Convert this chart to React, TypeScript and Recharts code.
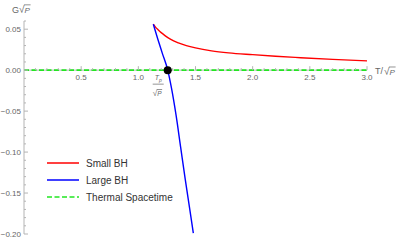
import { Line, LineChart, ReferenceDot, ReferenceLine, XAxis, YAxis } from 'recharts';

// Small BH branch
const smallT = [1.131, 1.15, 1.175, 1.2, 1.233, 1.28, 1.35, 1.42, 1.5, 1.64, 1.79, 2.0, 2.2, 2.42, 2.7, 3.0];
const smallG = [0.0561, 0.0525, 0.049, 0.0458, 0.0422, 0.0378, 0.0333, 0.03, 0.0272, 0.0236, 0.0211, 0.0189, 0.017, 0.0152, 0.0131, 0.0113];

// Large BH branch
const largeT = [1.131, 1.17, 1.21, 1.257, 1.29, 1.33, 1.37, 1.41, 1.45, 1.481];
const largeG = [0.0561, 0.038, 0.0205, 0, -0.022, -0.055, -0.094, -0.133, -0.17, -0.199];

// Thermal spacetime: G = 0
const thermalT = [0, 3];
const thermalG = [0, 0];

const transitionT = 1.257;

const xMajor = [0.5, 1.0, 1.5, 2.0, 2.5, 3.0];
const xTicks = [
  0.1, 0.2, 0.3, 0.4, 0.5, 0.6, 0.7, 0.8, 0.9, 1.0, 1.1, 1.2, 1.3, 1.4, 1.5,
  1.6, 1.7, 1.8, 1.9, 2.0, 2.1, 2.2, 2.3, 2.4, 2.5, 2.6, 2.7, 2.8, 2.9, 3.0,
];
const yMajor = [0.05, 0.0, -0.05, -0.1, -0.15, -0.2];
const yTicks = [
  0.06, 0.05, 0.04, 0.03, 0.02, 0.01, 0.0, -0.01, -0.02, -0.03, -0.04, -0.05,
  -0.06, -0.07, -0.08, -0.09, -0.1, -0.11, -0.12, -0.13, -0.14, -0.15, -0.16,
  -0.17, -0.18, -0.19, -0.2,
];

const legendItems = [
  { name: 'Small BH', color: '#ff0000', dash: false },
  { name: 'Large BH', color: '#0000ff', dash: false },
  { name: 'Thermal Spacetime', color: '#22e622', dash: true },
];

const W = 399;
const H = 240;
const M = { top: 21, right: 32, bottom: 5, left: 0 };
const X_H = 1;
const Y_W = 24;
const Y_DOMAIN: [number, number] = [-0.2, 0.06];
const plotH = H - M.top - M.bottom - X_H;
const zeroY = M.top + (plotH * Y_DOMAIN[1]) / (Y_DOMAIN[1] - Y_DOMAIN[0]);

const FONT = '"Liberation Sans", Arial, sans-serif';
const TICK_COLOR = '#666';
const AXIS_COLOR = '#b4b4b4';

const toPts = (xs: number[], ys: number[]) => xs.map((t, i) => ({ t, g: ys[i] }));

const isMajor = (list: number[], v: number) => list.some((m) => Math.abs(m - v) < 1e-9);

const fmtY = (v: number) => (v < 0 ? '\u2212' : '') + Math.abs(v).toFixed(2);

const YTick = ({ y, payload }: any) => {
  const major = isMajor(yMajor, payload.value);
  return (
    <g>
      <line x1={Y_W} x2={Y_W + (major ? 4 : 2)} y1={y} y2={y} stroke={AXIS_COLOR} />
      {major && (
        <text x={Y_W - 3} y={y} dy={3} textAnchor="end" fontSize={8} fill={TICK_COLOR} fontFamily={FONT}>
          {fmtY(payload.value)}
        </text>
      )}
    </g>
  );
};

const XTick = ({ x, payload }: any) => {
  const major = isMajor(xMajor, payload.value);
  return (
    <g>
      <line x1={x} x2={x} y1={zeroY} y2={zeroY - (major ? 4 : 2)} stroke={AXIS_COLOR} />
      {major && (
        <text x={x} y={zeroY + 10} textAnchor="middle" fontSize={8} fill={TICK_COLOR} fontFamily={FONT}>
          {payload.value.toFixed(1)}
        </text>
      )}
    </g>
  );
};

const SqrtP = ({ x, y, size }: { x: number; y: number; size: number }) => (
  <g fontFamily={FONT} fill={TICK_COLOR}>
    <text x={x} y={y} fontSize={size * 1.25}>
      {'\u221A'}
    </text>
    <line x1={x + size * 0.62} x2={x + size * 1.45} y1={y - size * 1.02} y2={y - size * 1.02} stroke={TICK_COLOR} strokeWidth={0.7} />
    <text x={x + size * 0.68} y={y} fontSize={size} fontStyle="italic">
      P
    </text>
  </g>
);

const LegendSvg = ({ x, y }: { x: number; y: number }) => (
  <g fontFamily={FONT} fontSize={10} fill="#333">
    {legendItems.map((it, i) => (
      <g key={it.name}>
        <line
          x1={x}
          x2={x + 32}
          y1={y + i * 17}
          y2={y + i * 17}
          stroke={it.color}
          strokeWidth={1.5}
          strokeDasharray={it.dash ? '5 2.5' : undefined}
        />
        <text x={x + 39} y={y + i * 17 + 3.5}>
          {it.name}
        </text>
      </g>
    ))}
  </g>
);

export default function App() {
  return (
    <div style={{ position: 'absolute', left: 0, top: 0, width: W, height: H, background: '#fff' }}>
      <LineChart width={W} height={H} margin={M}>
        <XAxis
          dataKey="t"
          type="number"
          domain={[0, 3]}
          ticks={xTicks}
          interval={0}
          height={X_H}
          axisLine={false}
          tickLine={false}
          tick={<XTick />}
          allowDataOverflow
        />
        <YAxis
          dataKey="g"
          type="number"
          domain={Y_DOMAIN}
          ticks={yTicks}
          interval={0}
          width={Y_W}
          axisLine={{ stroke: AXIS_COLOR }}
          tickLine={false}
          tick={<YTick />}
          allowDataOverflow
        />
        <ReferenceLine y={0} stroke={AXIS_COLOR} />
        <Line data={toPts(thermalT, thermalG)} dataKey="g" stroke="#22e622" strokeWidth={1.6} strokeDasharray="5 2.5" dot={false} isAnimationActive={false} />
        <Line data={toPts(smallT, smallG)} dataKey="g" type="monotone" stroke="#ff0000" strokeWidth={1.4} dot={false} isAnimationActive={false} />
        <Line data={toPts(largeT, largeG)} dataKey="g" type="monotone" stroke="#0000ff" strokeWidth={1.4} dot={false} isAnimationActive={false} />
        <ReferenceDot
          x={transitionT}
          y={0}
          r={4}
          fill="#000"
          stroke="none"
          label={(p: any) => {
            const cx = p.viewBox.x + p.viewBox.width / 2;
            const cy = p.viewBox.y + p.viewBox.height / 2;
            const lx = cx - 15;
            return (
              <g fontFamily={FONT} fill={TICK_COLOR}>
                <text x={lx + 5.5} y={cy + 10} fontSize={7} fontStyle="italic" textAnchor="middle">
                  T
                  <tspan fontSize={5} dy={1.5}>p</tspan>
                </text>
                <line x1={lx} x2={lx + 11} y1={cy + 14} y2={cy + 14} stroke={TICK_COLOR} strokeWidth={0.7} />
                <SqrtP x={lx} y={cy + 26} size={6.5} />
              </g>
            );
          }}
        />
        <LegendSvg x={47} y={163} />
        <text x={12} y={13} fontSize={9} fill={TICK_COLOR} fontFamily={FONT}>
          G
        </text>
        <SqrtP x={19} y={13} size={8} />
        <text x={375} y={zeroY + 4} fontSize={9} fill={TICK_COLOR} fontFamily={FONT}>
          T/
        </text>
        <SqrtP x={384} y={zeroY + 5} size={8} />
      </LineChart>
    </div>
  );
}
